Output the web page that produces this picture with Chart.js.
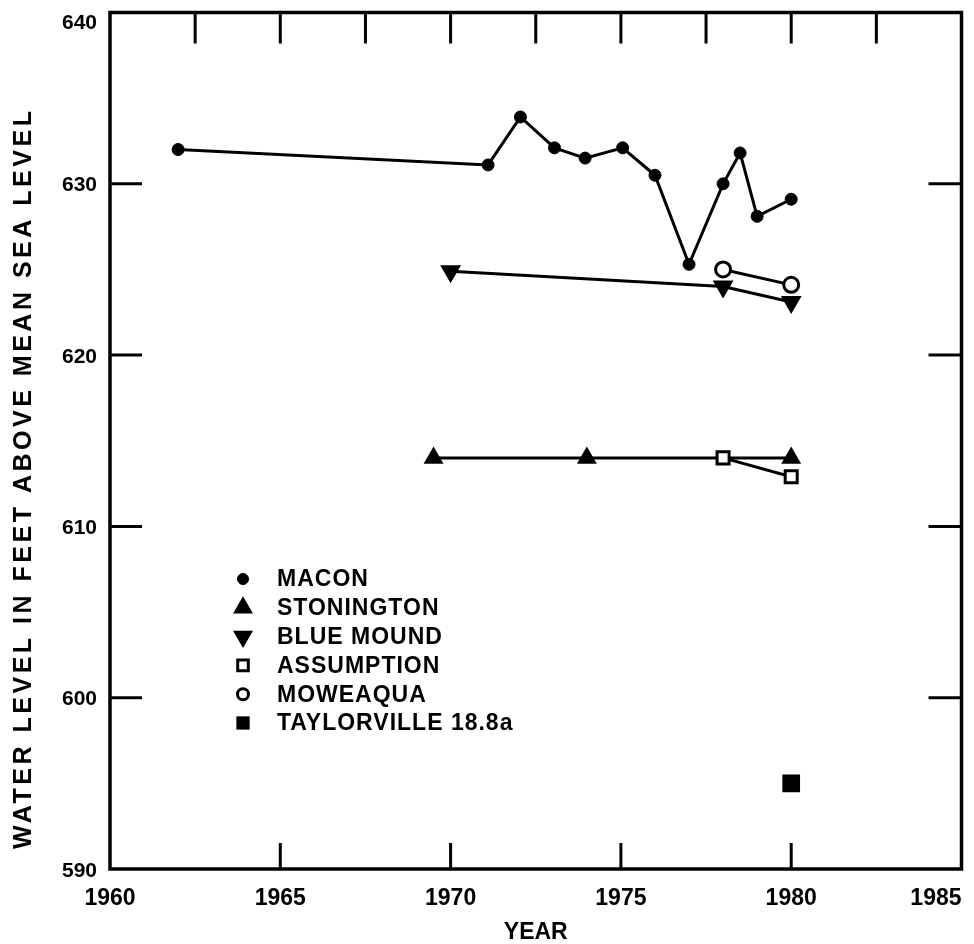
<!DOCTYPE html>
<html>
<head>
<meta charset="utf-8">
<script src="https://cdn.jsdelivr.net/npm/chart.js@4.4.1/dist/chart.umd.min.js"></script>
<style>
  html, body { margin: 0; padding: 0; background: #fff; }
  canvas { display: block; }
</style>
</head>
<body>
<canvas id="chart" width="974" height="944"></canvas>
<script>
// Water levels (feet above mean sea level) by year for each well
const maconYears = [1962, 1971.1, 1972.05, 1973.05, 1973.95, 1975.05, 1976, 1977, 1978, 1978.5, 1979, 1980];
const maconLevels = [632.0, 631.1, 633.9, 632.1, 631.5, 632.1, 630.5, 625.3, 630.0, 631.8, 628.1, 629.1];

const stoningtonYears = [1969.5, 1974, 1980];
const stoningtonLevels = [614.0, 614.0, 614.0];

const blueMoundYears = [1970, 1978, 1980];
const blueMoundLevels = [624.9, 624.0, 623.1];

const assumptionYears = [1978, 1980];
const assumptionLevels = [614.0, 612.9];

const moweaquaYears = [1978, 1980];
const moweaquaLevels = [625.0, 624.1];

const taylorvilleYears = [1980];
const taylorvilleLevels = [595.0];

// Axis ranges and tick positions
const yearMin = 1960, yearMax = 1985, yearStep = 5;
const levelMin = 590, levelMax = 640, levelStep = 10;
const bottomTickYears = [1965, 1970, 1975, 1980];
const topTickYears = [1962.5, 1965, 1967.5, 1970, 1972.5, 1975, 1977.5, 1980, 1982.5];
const sideTickLevels = [600, 610, 620, 630];

const xTitle = 'YEAR';
const yTitle = 'WATER LEVEL IN FEET ABOVE MEAN SEA LEVEL';

const FONT = '"Liberation Sans", Arial, Helvetica, sans-serif';

function points(xs, ys) {
  return xs.map((x, i) => ({ x: x, y: ys[i] }));
}

const INK = '#000';

const datasets = [
  {
    label: 'MACON', data: points(maconYears, maconLevels),
    pointStyle: 'circle', pointRadius: 6, pointBorderWidth: 1,
    pointBackgroundColor: INK, legendRadius: 5.5, order: 2
  },
  {
    label: 'STONINGTON', data: points(stoningtonYears, stoningtonLevels),
    pointStyle: 'triangle', pointRadius: 11.5, pointBorderWidth: 0,
    pointBackgroundColor: INK, legendRadius: 11.5, order: 3
  },
  {
    label: 'BLUE MOUND', data: points(blueMoundYears, blueMoundLevels),
    pointStyle: 'triangle', pointRotation: 180, pointRadius: 12, pointBorderWidth: 0,
    pointBackgroundColor: INK, legendRadius: 11.5, order: 3
  },
  {
    label: 'ASSUMPTION', data: points(assumptionYears, assumptionLevels),
    pointStyle: 'rect', pointRadius: 8.5, pointBorderWidth: 3,
    pointBackgroundColor: '#fff', legendRadius: 7.5, order: 1
  },
  {
    label: 'MOWEAQUA', data: points(moweaquaYears, moweaquaLevels),
    pointStyle: 'circle', pointRadius: 7.5, pointBorderWidth: 3,
    pointBackgroundColor: '#fff', legendRadius: 5.5, order: 1
  },
  {
    label: 'TAYLORVILLE 18.8a', data: points(taylorvilleYears, taylorvilleLevels),
    pointStyle: 'rect', pointRadius: 12.5, pointBorderWidth: 0,
    pointBackgroundColor: INK, legendRadius: 9.4, order: 1
  }
].map(ds => Object.assign({
  showLine: true,
  borderColor: INK,
  borderWidth: 3,
  pointBorderColor: INK,
  pointHoverRadius: 0,
  tension: 0
}, ds));

// White page behind everything
const backgroundPlugin = {
  id: 'pageBackground',
  beforeDraw(chart) {
    const ctx = chart.ctx;
    ctx.save();
    ctx.fillStyle = '#fff';
    ctx.fillRect(0, 0, chart.width, chart.height);
    ctx.restore();
  }
};

// Box frame with tick marks pointing into the plot on all four sides
const framePlugin = {
  id: 'frameTicks',
  afterDatasetsDraw(chart) {
    const ctx = chart.ctx;
    const a = chart.chartArea;
    const xs = chart.scales.x, ys = chart.scales.y;
    ctx.save();
    ctx.strokeStyle = INK;
    ctx.lineCap = 'butt';
    ctx.lineWidth = 3.5;
    ctx.strokeRect(a.left, a.top, a.right - a.left, a.bottom - a.top);
    ctx.lineWidth = 3;
    ctx.beginPath();
    bottomTickYears.forEach(v => {
      const px = xs.getPixelForValue(v);
      ctx.moveTo(px, a.bottom); ctx.lineTo(px, a.bottom - 26);
    });
    topTickYears.forEach(v => {
      const px = xs.getPixelForValue(v);
      ctx.moveTo(px, a.top); ctx.lineTo(px, a.top + 31);
    });
    sideTickLevels.forEach(v => {
      const py = ys.getPixelForValue(v);
      ctx.moveTo(a.left, py); ctx.lineTo(a.left + 32, py);
      ctx.moveTo(a.right, py); ctx.lineTo(a.right - 33, py);
    });
    ctx.stroke();
    ctx.restore();
  }
};

// Tick numbers: years kept within the frame's right edge, levels kept below its top edge
const tickLabelPlugin = {
  id: 'tickLabels',
  afterDraw(chart) {
    const ctx = chart.ctx;
    const a = chart.chartArea;
    const xs = chart.scales.x, ys = chart.scales.y;
    ctx.save();
    ctx.fillStyle = INK;
    ctx.textBaseline = 'alphabetic';

    ctx.font = 'bold 23px ' + FONT;
    ctx.textAlign = 'center';
    xs.ticks.forEach(t => {
      const text = String(t.value);
      const half = ctx.measureText(text).width / 2;
      const px = Math.min(xs.getPixelForValue(t.value), a.right - half);
      ctx.fillText(text, px, a.bottom + 36);
    });

    const size = 21;
    ctx.font = 'bold ' + size + 'px ' + FONT;
    ctx.textAlign = 'right';
    const capHalf = size * 0.716 / 2;
    ys.ticks.forEach(t => {
      const text = String(t.value);
      const base = Math.max(ys.getPixelForValue(t.value) + capHalf, a.top + 16);
      ctx.fillText(text, a.left - 13, base);
    });
    ctx.restore();
  }
};

// Key of well symbols inside the plot, lower left
const keyPlugin = {
  id: 'wellKey',
  afterDatasetsDraw(chart) {
    const ctx = chart.ctx;
    const markerX = 243, textX = 277, firstY = 579, rowGap = 28.8;
    ctx.save();
    chart.data.datasets.forEach((ds, i) => {
      const y = firstY + i * rowGap;
      ctx.fillStyle = ds.pointBackgroundColor;
      ctx.strokeStyle = ds.pointBorderColor;
      ctx.lineWidth = ds.pointBorderWidth;
      Chart.helpers.drawPoint(ctx, {
        pointStyle: ds.pointStyle,
        rotation: ds.pointRotation || 0,
        radius: ds.legendRadius,
        borderWidth: ds.pointBorderWidth
      }, markerX, y);
      ctx.fillStyle = INK;
      ctx.font = 'bold 23px ' + FONT;
      ctx.letterSpacing = '1px';
      ctx.textAlign = 'left';
      ctx.textBaseline = 'middle';
      ctx.fillText(ds.label, textX, y + 1);
    });
    ctx.restore();
  }
};

// Vertical axis title, spread along the left margin
const yTitlePlugin = {
  id: 'yTitle',
  afterDraw(chart) {
    const ctx = chart.ctx;
    const span = 738, cx = 24, cy = 480;
    ctx.save();
    ctx.translate(cx, cy);
    ctx.rotate(-Math.PI / 2);
    ctx.font = 'bold 25px ' + FONT;
    ctx.letterSpacing = '0px';
    const w = ctx.measureText(yTitle).width;
    const extra = Math.max(0, (span - w) / (yTitle.length - 1));
    ctx.letterSpacing = extra.toFixed(2) + 'px';
    ctx.fillStyle = INK;
    ctx.textAlign = 'center';
    ctx.textBaseline = 'middle';
    ctx.fillText(yTitle, extra / 2, 0);
    ctx.restore();
  }
};

new Chart(document.getElementById('chart'), {
  type: 'scatter',
  data: { datasets: datasets },
  plugins: [backgroundPlugin, framePlugin, keyPlugin, tickLabelPlugin, yTitlePlugin],
  options: {
    responsive: false,
    animation: false,
    events: [],
    layout: { padding: { left: 0, top: 12, right: 6, bottom: 0 } },
    plugins: {
      legend: { display: false },
      tooltip: { enabled: false }
    },
    scales: {
      x: {
        type: 'linear',
        min: yearMin, max: yearMax,
        grid: { display: false, drawTicks: false },
        border: { display: false },
        ticks: { stepSize: yearStep, autoSkip: false, display: false },
        title: {
          display: true, text: xTitle, color: INK,
          padding: { top: 0, bottom: 0 },
          font: { family: FONT, size: 23, weight: 'bold', lineHeight: 1 }
        },
        afterFit(scale) {
          scale.height = 75;
          scale.paddingLeft = 0;
          scale.paddingRight = 0;
        }
      },
      y: {
        type: 'linear',
        min: levelMin, max: levelMax,
        grid: { display: false, drawTicks: false },
        border: { display: false },
        ticks: { stepSize: levelStep, display: false },
        afterFit(scale) {
          scale.width = 110;
          scale.paddingTop = 0;
          scale.paddingBottom = 0;
        }
      }
    }
  }
});
</script>
</body>
</html>
